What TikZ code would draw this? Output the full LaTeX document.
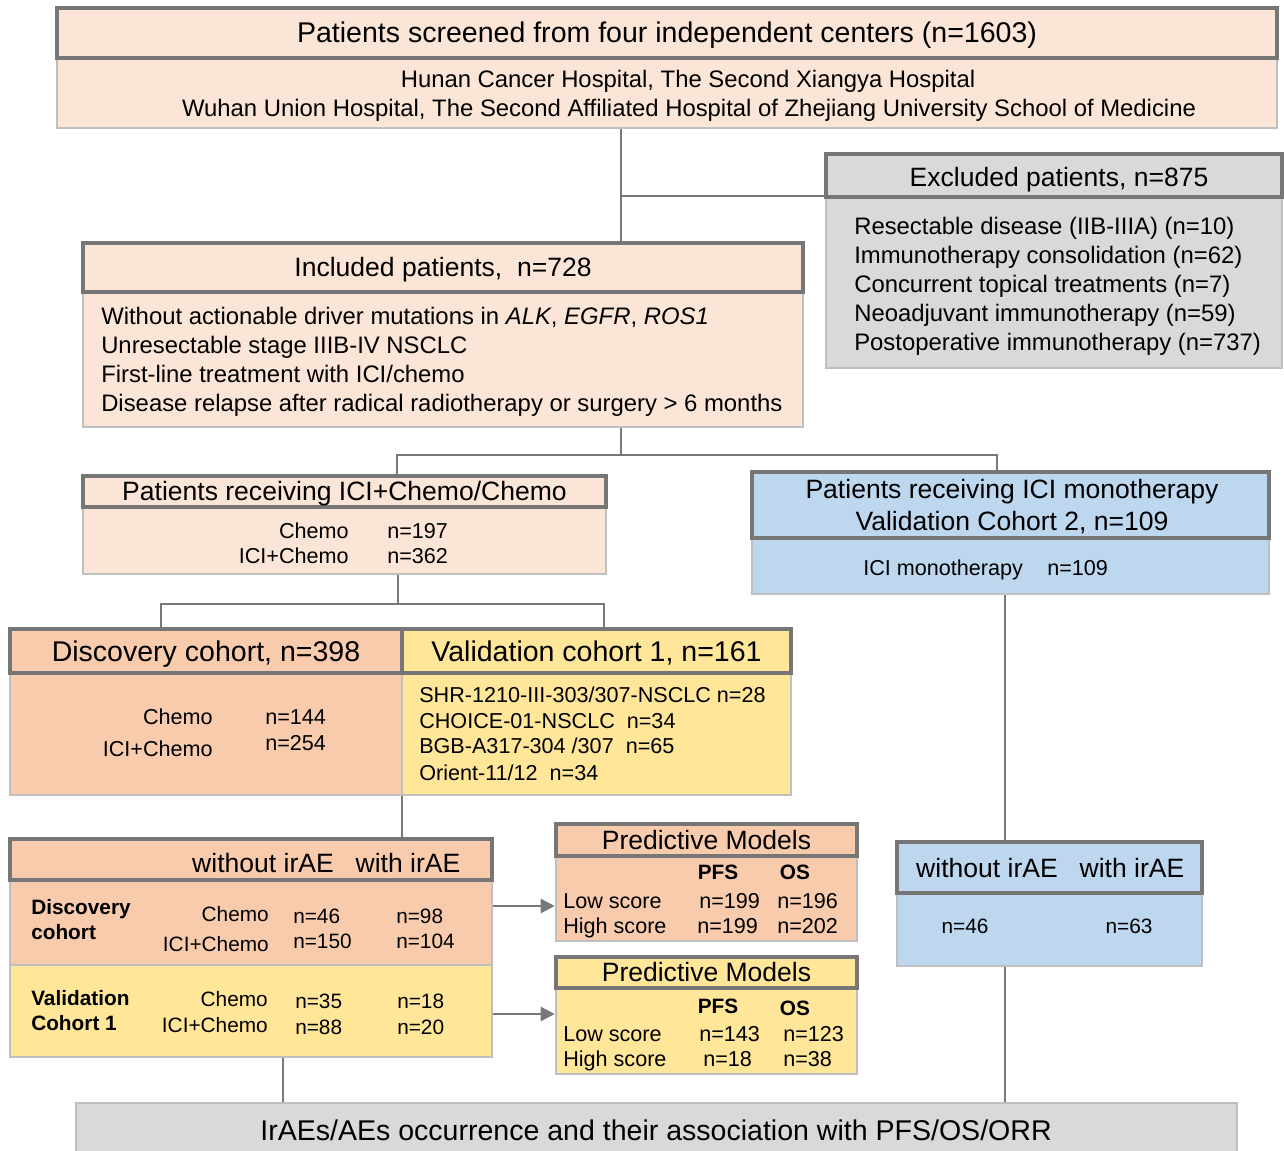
\documentclass[tikz,border=0pt]{standalone}
\usepackage{fontspec}
\setmainfont{Liberation Sans}
\usepackage{tikz}
\usetikzlibrary{arrows.meta,fit}
\usepackage{xcolor}

\definecolor{peachL}{RGB}{251,229,214}
\definecolor{peachD}{RGB}{248,203,173}
\definecolor{yellowC}{RGB}{255,230,153}
\definecolor{blueC}{RGB}{189,215,238}
\definecolor{grayC}{RGB}{217,217,217}
\definecolor{hdrLine}{RGB}{118,118,118}
\definecolor{bdyLine}{RGB}{191,191,191}
\definecolor{connLine}{RGB}{120,120,120}

\tikzset{
  hdr/.style={draw=hdrLine, line width=2.3pt, inner sep=0pt},
  bdy/.style={draw=bdyLine, line width=1.9pt, inner sep=0pt},
  conn/.style={draw=connLine, line width=1.9pt},
  arr/.style={conn, -{Triangle[length=10.5pt,width=10.5pt]}},
  fXL/.style={inner sep=0pt, text height=17.1pt, text depth=2.1pt, font=\fontsize{21.4}{24}\selectfont},
  fL/.style={inner sep=0pt, text height=15.9pt, text depth=2pt, font=\fontsize{19.9}{23}\selectfont},
  fM/.style={inner sep=0pt, text height=14.3pt, text depth=1.8pt, font=\fontsize{17.9}{21}\selectfont},
  fS/.style={inner sep=0pt, text height=13pt, text depth=1.6pt, font=\fontsize{16.2}{19}\selectfont},
  fT/.style={inner sep=0pt, text height=12.5pt, text depth=1.6pt, font=\fontsize{15.6}{18}\selectfont},
  fB/.style={inner sep=0pt, text height=12.5pt, text depth=1.6pt, font=\fontsize{15.6}{18}\selectfont\bfseries},
}

\begin{document}
\begin{tikzpicture}[x=0.75pt,y=0.75pt,yscale=-1,xscale=1]
\useasboundingbox (0,0) rectangle (1284,1151);

%Shape: Rectangle [screened]
\node[bdy, fill=peachL, fit={(57,58)(1277,128)}] (screenBd) {};
\node[hdr, fill=peachL, fit={(57,8)(1277,58)}] (screenHd) {};
% Text Node
\node[fXL] (screenTt) at (screenHd) {Patients screened from four independent centers (n=1603)};
\node[fM] (hosp1) at (688,79) {Hunan Cancer Hospital, The Second Xiangya Hospital};
\node[fM] (hosp2) at (689,108) {Wuhan Union Hospital, The Second Affiliated Hospital of Zhejiang University School of Medicine};

%Shape: Rectangle [excluded]
\node[bdy, fill=grayC, fit={(826,197)(1282,368)}] (exclBd) {};
\node[hdr, fill=grayC, fit={(826,154)(1282,197)}] (exclHd) {};
% Text Node
\node[fL] (exclTt) at (1059,177) {Excluded patients, n=875};
\node[fM, anchor=west] (excl1) at (854,226) {Resectable disease (IIB-IIIA) (n=10)};
\node[fM, anchor=west] (excl2) at (854,255) {Immunotherapy consolidation (n=62)};
\node[fM, anchor=west] (excl3) at (854,284) {Concurrent topical treatments (n=7)};
\node[fM, anchor=west] (excl4) at (854,313) {Neoadjuvant immunotherapy (n=59)};
\node[fM, anchor=west] (excl5) at (854,342) {Postoperative immunotherapy (n=737)};

%Shape: Rectangle [included]
\node[bdy, fill=peachL, fit={(83,292)(803,427)}] (inclBd) {};
\node[hdr, fill=peachL, fit={(83,243)(803,292)}] (inclHd) {};
% Text Node
\node[fL] (inclTt) at (inclHd) {Included patients,\ \ n=728};
\node[fM, anchor=west] (incl1) at (101,316) {Without actionable driver mutations in \textit{ALK}, \textit{EGFR}, \textit{ROS1}};
\node[fM, anchor=west] (incl2) at (101,345) {Unresectable stage IIIB-IV NSCLC};
\node[fM, anchor=west] (incl3) at (101,374) {First-line treatment with ICI/chemo};
\node[fM, anchor=west] (incl4) at (101,403) {Disease relapse after radical radiotherapy or surgery > 6 months};

%Shape: Rectangle [ICI+Chemo/Chemo]
\node[bdy, fill=peachL, fit={(83,507)(606,574)}] (chemoBd) {};
\node[hdr, fill=peachL, fit={(83,476)(606,507)}] (chemoHd) {};
% Text Node
\node[fL] (chemoTt) at (chemoHd) {Patients receiving ICI+Chemo/Chemo};
\node[fS, anchor=east] (chemoA) at (349,531) {Chemo};
\node[fS, anchor=east] (chemoB) at (349,556) {ICI+Chemo};
\node[fS, anchor=west] (chemoNA) at (387,531) {n=197};
\node[fS, anchor=west] (chemoNB) at (387,556) {n=362};

%Shape: Rectangle [ICI monotherapy]
\node[bdy, fill=blueC, fit={(752,538)(1269,594)}] (monoBd) {};
\node[hdr, fill=blueC, fit={(752,472)(1269,538)}] (monoHd) {};
% Text Node
\node[fL] (monoTt1) at (1012,489) {Patients receiving ICI monotherapy};
\node[fL] (monoTt2) at (1012,521) {Validation Cohort 2, n=109};
\node[fS, anchor=west] (monoA) at (863,568) {ICI monotherapy};
\node[fS, anchor=west] (monoN) at (1047,568) {n=109};

%Shape: Rectangle [discovery / validation cohort 1]
\node[bdy, fill=peachD, fit={(10,673)(402,795)}] (discBd) {};
\node[bdy, fill=yellowC, fit={(402,673)(791,795)}] (valBd) {};
\node[hdr, fill=peachD, fit={(10,629)(402,673)}] (discHd) {};
\node[hdr, fill=yellowC, fit={(402,629)(791,673)}] (valHd) {};
% Text Node
\node[fXL] (discTt) at (discHd) {Discovery cohort, n=398};
\node[fXL] (valTt) at (valHd) {Validation cohort 1, n=161};
\node[fS, anchor=east] (discA) at (213,717) {Chemo};
\node[fS, anchor=east] (discB) at (213,749) {ICI+Chemo};
\node[fS, anchor=west] (discNA) at (265,717) {n=144};
\node[fS, anchor=west] (discNB) at (265,743) {n=254};
\node[fS, anchor=west] (val1) at (419,695) {SHR-1210-III-303/307-NSCLC n=28};
\node[fS, anchor=west] (val2) at (419,721) {CHOICE-01-NSCLC\ \ n=34};
\node[fS, anchor=west] (val3) at (419,746) {BGB-A317-304 /307\ \ n=65};
\node[fS, anchor=west] (val4) at (419,773) {Orient-11/12\ \ n=34};

%Shape: Rectangle [irAE table]
\node[bdy, fill=peachD, fit={(10,880)(492,965)}] (tabDisc) {};
\node[bdy, fill=yellowC, fit={(10,965)(492,1057)}] (tabVal) {};
\node[hdr, fill=peachD, fit={(10,839)(492,880)}] (tabHd) {};
% Text Node
\node[fL] (tabH1) at (263,863) {without irAE};
\node[fL] (tabH2) at (408,863) {with irAE};
\node[fB, anchor=west] (tabD1) at (31,907) {Discovery};
\node[fB, anchor=west] (tabD2) at (31,932) {cohort};
\node[fT, anchor=east] (tabDA) at (269,914) {Chemo};
\node[fT, anchor=east] (tabDB) at (269,944) {ICI+Chemo};
\node[fT, anchor=west] (tabDNA1) at (293,916) {n=46};
\node[fT, anchor=west] (tabDNB1) at (293,941) {n=150};
\node[fT, anchor=west] (tabDNA2) at (396,916) {n=98};
\node[fT, anchor=west] (tabDNB2) at (396,941) {n=104};
\node[fB, anchor=west] (tabV1) at (31,998) {Validation};
\node[fB, anchor=west] (tabV2) at (31,1023) {Cohort 1};
\node[fT, anchor=east] (tabVA) at (268,999) {Chemo};
\node[fT, anchor=east] (tabVB) at (268,1025) {ICI+Chemo};
\node[fT, anchor=west] (tabVNA1) at (295,1001) {n=35};
\node[fT, anchor=west] (tabVNB1) at (295,1027) {n=88};
\node[fT, anchor=west] (tabVNA2) at (397,1001) {n=18};
\node[fT, anchor=west] (tabVNB2) at (397,1027) {n=20};

%Shape: Rectangle [predictive models, discovery]
\node[bdy, fill=peachD, fit={(556,856)(857,941)}] (predDBd) {};
\node[hdr, fill=peachD, fit={(556,824)(857,856)}] (predDHd) {};
% Text Node
\node[fL] (predDTt) at (predDHd) {Predictive Models};
\node[fB] (predDP) at (718,872) {PFS};
\node[fB] (predDO) at (795,872) {OS};
\node[fS, anchor=west] (predDL) at (563,901) {Low score};
\node[fS, anchor=west] (predDH) at (563,926) {High score};
\node[fS, anchor=west] (predDL1) at (699,901) {n=199};
\node[fS, anchor=west] (predDL2) at (777,901) {n=196};
\node[fS, anchor=west] (predDH1) at (697,926) {n=199};
\node[fS, anchor=west] (predDH2) at (777,926) {n=202};

%Shape: Rectangle [predictive models, validation]
\node[bdy, fill=yellowC, fit={(556,988)(857,1074)}] (predVBd) {};
\node[hdr, fill=yellowC, fit={(556,957)(857,988)}] (predVHd) {};
% Text Node
\node[fL] (predVTt) at (predVHd) {Predictive Models};
\node[fB] (predVP) at (718,1006) {PFS};
\node[fB] (predVO) at (795,1008) {OS};
\node[fS, anchor=west] (predVL) at (563,1034) {Low score};
\node[fS, anchor=west] (predVH) at (563,1059) {High score};
\node[fS, anchor=west] (predVL1) at (699,1034) {n=143};
\node[fS, anchor=west] (predVL2) at (783,1034) {n=123};
\node[fS, anchor=west] (predVH1) at (703,1059) {n=18};
\node[fS, anchor=west] (predVH2) at (783,1059) {n=38};

%Shape: Rectangle [irAE, cohort 2]
\node[bdy, fill=blueC, fit={(897,893)(1202,966)}] (irBd) {};
\node[hdr, fill=blueC, fit={(897,842)(1202,893)}] (irHd) {};
% Text Node
\node[fL] (irH1) at (987,868) {without irAE};
\node[fL] (irH2) at (1132,868) {with irAE};
\node[fT] (irN1) at (965,926) {n=46};
\node[fT] (irN2) at (1129,926) {n=63};

%Shape: Rectangle [outcome]
\node[bdy, fill=grayC, fit={(76,1103)(1237,1162)}] (outBox) {};
% Text Node
\node[fXL] (outTt) at (656,1130) {IrAEs/AEs occurrence and their association with PFS/OS/ORR};

%Straight Lines
\coordinate (jTop) at (621,196);
\draw[conn] (jTop |- screenBd.south) -- (jTop |- inclHd.north);
\draw[conn] (jTop) -- (jTop -| exclHd.west);
\coordinate (jInc) at (621,455);
\coordinate (jL) at (397,455);
\coordinate (jR) at (997,455);
\draw[conn] (jInc |- inclBd.south) -- (jInc);
\draw[conn] (jL |- chemoHd.north) -- (jL) -- (jR) -- (jR |- monoHd.north);
\coordinate (jChe) at (398,604);
\coordinate (jCL) at (161,604);
\coordinate (jCR) at (604,604);
\draw[conn] (jChe |- chemoBd.south) -- (jChe);
\draw[conn] (jCL |- discHd.north) -- (jCL) -- (jCR) -- (jCR |- valHd.north);
\coordinate (jCoh) at (402,815);
\draw[conn] (jCoh |- discBd.south) -- (jCoh |- tabHd.north);
\coordinate (jMono) at (1005,700);
\draw[conn] (jMono |- monoBd.south) -- (jMono |- irHd.north);
\coordinate (jOutL) at (283,1080);
\coordinate (jOutR) at (1005,1040);
\draw[conn] (jOutL |- tabVal.south) -- (jOutL |- outBox.north);
\draw[conn] (jOutR |- irBd.south) -- (jOutR |- outBox.north);
\coordinate (aDisc) at (0,906);
\coordinate (aVal) at (0,1014);
\draw[arr] (aDisc -| tabDisc.east) -- (aDisc -| predDBd.west);
\draw[arr] (aVal -| tabVal.east) -- (aVal -| predVBd.west);

\end{tikzpicture}
\end{document}
